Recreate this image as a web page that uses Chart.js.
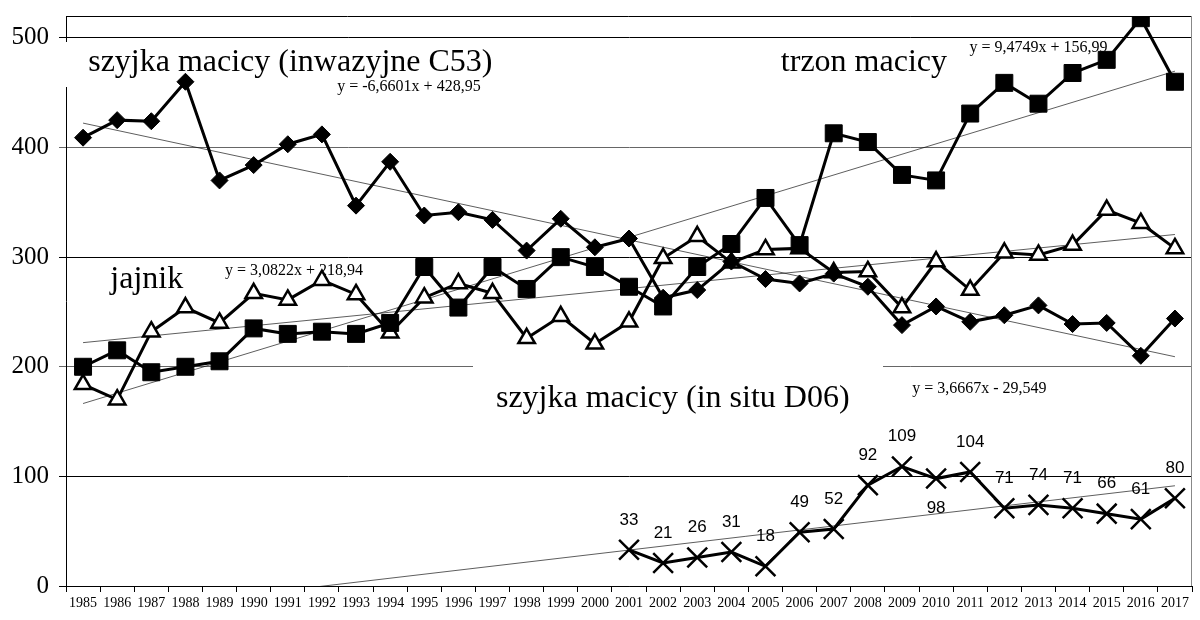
<!DOCTYPE html>
<html>
<head>
<meta charset="utf-8">
<script src="https://cdn.jsdelivr.net/npm/chart.js@4.4.1/dist/chart.umd.min.js"></script>
<style>
  html, body { margin: 0; padding: 0; background: #fff; overflow: hidden; }
  #wrap { width: 1200px; height: 620px; }
</style>
</head>
<body>
<div id="wrap"><canvas id="chart"></canvas></div>
<script>
const years = [1985, 1986, 1987, 1988, 1989, 1990, 1991, 1992, 1993, 1994, 1995, 1996, 1997, 1998, 1999, 2000,
  2001, 2002, 2003, 2004, 2005, 2006, 2007, 2008, 2009, 2010, 2011, 2012, 2013, 2014, 2015, 2016, 2017];

// szyjka macicy (inwazyjne C53)
const cervixC53 = [409, 425, 424, 460, 370, 384, 403, 412, 347, 387, 338, 341, 334, 306, 335, 309,
  317, 263, 270, 296, 280, 276, 285, 273, 238, 255, 241, 247, 256, 239, 240, 210, 244];
// trzon macicy
const uterusBody = [200, 215, 195, 200, 205, 235, 230, 232, 230, 240, 291, 254, 291, 271, 300, 291,
  273, 255, 291, 312, 354, 311, 413, 405, 375, 370, 431, 459, 440, 468, 480, 518, 460];
// jajnik
const ovary = [184, 170, 232, 254, 240, 267, 261, 279, 266, 231, 263, 276, 267, 226, 246, 221,
  241, 299, 319, 295, 307, 308, 286, 287, 254, 296, 270, 304, 302, 311, 343, 331, 308];
// szyjka macicy (in situ D06)
const cervixD06 = [null, null, null, null, null, null, null, null, null, null, null, null, null, null, null, null,
  33, 21, 26, 31, 18, 49, 52, 92, 109, 98, 104, 71, 74, 71, 66, 61, 80];

// trend lines as printed on the chart (x = 1 for 1985)
const trendNames = ['cervixC53', 'uterusBody', 'ovary', 'cervixD06'];
const trendSlope = [-6.6601, 9.4749, 3.0822, 3.6667];
const trendIntercept = [428.95, 156.99, 218.94, -29.549];
const trendText = ['y = -6,6601x + 428,95', 'y = 9,4749x + 156,99', 'y = 3,0822x + 218,94', 'y = 3,6667x - 29,549'];

const yTicks = [0, 100, 200, 300, 400, 500];
const labelBelowYears = [2010];

const serif = '"Liberation Serif", "Times New Roman", serif';
const sans = '"Liberation Sans", Arial, sans-serif';

// text placed on the chart: anchored to (year index, value)
const notes = [
  { text: 'szyjka macicy (inwazyjne C53)', i: 0.15, v: 470, size: 32, box: [56, 42, 520, 87] },
  { text: 'trzon macicy', i: 20.45, v: 470, size: 32 },
  { text: 'jajnik', i: 0.8, v: 272, size: 32 },
  { text: 'szyjka macicy (in situ D06)', i: 12.1, v: 163, size: 32, box: [473, 360, 883, 420] },
  { text: trendText[0], i: 7.45, v: 452, size: 16 },
  { text: trendText[1], i: 25.98, v: 487, size: 16 },
  { text: trendText[2], i: 4.16, v: 284, size: 16 },
  { text: trendText[3], i: 24.3, v: 176, size: 16 }
];

function trendData(k) {
  const n = years.length;
  return years.map((y, i) => (i === 0 || i === n - 1) ? trendSlope[k] * (i + 1) + trendIntercept[k] : null);
}

const notesPlugin = {
  id: 'notes',
  beforeDatasetsDraw(chart) {
    const ctx = chart.ctx, x = chart.scales.x, y = chart.scales.y, a = chart.chartArea;
    ctx.save();
    // plot frame (top and right)
    ctx.strokeStyle = '#000';
    ctx.lineWidth = 1;
    ctx.beginPath();
    ctx.moveTo(a.left, a.top + 0.5);
    ctx.lineTo(a.right - 0.5, a.top + 0.5);
    ctx.stroke();
    ctx.strokeStyle = '#888';
    ctx.beginPath();
    ctx.moveTo(a.right - 0.5, a.top);
    ctx.lineTo(a.right - 0.5, a.bottom);
    ctx.stroke();
    notes.forEach(n => {
      if (n.box) {
        ctx.fillStyle = '#fff';
        ctx.fillRect(n.box[0], n.box[1], n.box[2] - n.box[0], n.box[3] - n.box[1]);
      }
    });
    ctx.fillStyle = '#000';
    ctx.textAlign = 'left';
    ctx.textBaseline = 'alphabetic';
    notes.forEach(n => {
      ctx.font = n.size + 'px ' + serif;
      ctx.fillText(n.text, x.getPixelForValue(n.i), y.getPixelForValue(n.v));
    });
    ctx.restore();
  },
  afterDatasetsDraw(chart) {
    const ctx = chart.ctx;
    const meta = chart.getDatasetMeta(3);
    ctx.save();
    ctx.fillStyle = '#000';
    ctx.font = '17px ' + sans;
    ctx.textAlign = 'center';
    ctx.textBaseline = 'middle';
    meta.data.forEach((pt, i) => {
      const v = cervixD06[i];
      if (v == null) return;
      const below = labelBelowYears.includes(years[i]);
      ctx.fillText(String(v), pt.x, below ? pt.y + 30 : pt.y - 30);
    });
    ctx.restore();
  }
};

const series = [
  { label: 'szyjka macicy (inwazyjne C53)', data: cervixC53, pointStyle: 'rectRot', pointRadius: 8.5, pointBackgroundColor: '#000' },
  { label: 'trzon macicy', data: uterusBody, pointStyle: 'rect', pointRadius: 12, pointBackgroundColor: '#000' },
  { label: 'jajnik', data: ovary, pointStyle: 'triangle', pointRadius: 9.5, pointBackgroundColor: '#fff', pointBorderWidth: 2.5 },
  { label: 'szyjka macicy (in situ D06)', data: cervixD06, pointStyle: 'crossRot', pointRadius: 14, pointBorderWidth: 2.5 }
].map(d => Object.assign({
  borderColor: '#000',
  borderWidth: 3,
  pointBorderColor: '#000',
  pointBorderWidth: 1,
  tension: 0,
  spanGaps: false
}, d));

const trends = trendNames.map((name, k) => ({
  label: 'trend ' + name,
  data: trendData(k),
  borderColor: 'rgba(0,0,0,0.8)',
  borderWidth: 0.8,
  pointRadius: 0,
  spanGaps: true,
  tension: 0
}));

new Chart(document.getElementById('chart'), {
  type: 'line',
  data: { labels: years.map(String), datasets: series.concat(trends) },
  plugins: [notesPlugin],
  options: {
    responsive: true,
    maintainAspectRatio: false,
    animation: false,
    layout: { autoPadding: false, padding: { top: 16, right: 8, left: 0, bottom: 0 } },
    plugins: { legend: { display: false }, tooltip: { enabled: false } },
    scales: {
      x: {
        offset: true,
        grid: { offset: true, drawOnChartArea: false, drawTicks: true, tickLength: 6, color: '#000' },
        border: { display: true, color: '#000', width: 1 },
        ticks: { color: '#000', font: { family: serif, size: 14 }, padding: 3, maxRotation: 0, autoSkip: false },
        afterFit: s => { s.height = 34; s.paddingLeft = 0; s.paddingRight = 0; }
      },
      y: {
        min: 0,
        max: 520,
        afterBuildTicks: s => { s.ticks = yTicks.map(v => ({ value: v })); },
        grid: { color: ctx => ctx.tick && (ctx.tick.value === 200 || ctx.tick.value === 400) ? '#666' : '#000', lineWidth: 1, tickLength: 7 },
        border: { display: true, color: '#000', width: 1 },
        ticks: { color: '#000', font: { family: serif, size: 25 }, padding: 10 },
        afterFit: s => { s.width = 66; s.paddingTop = 0; s.paddingBottom = 0; }
      }
    }
  }
});
</script>
</body>
</html>
